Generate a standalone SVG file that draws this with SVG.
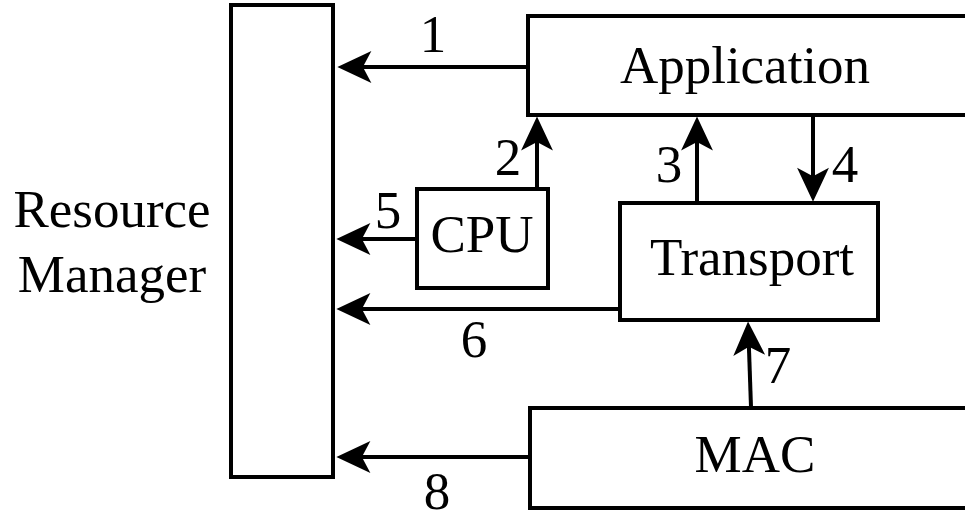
<svg xmlns="http://www.w3.org/2000/svg" width="965" height="521" viewBox="0 0 965 521">
<style>
.box{fill:#fff;stroke:#000;stroke-width:4}
.lbl{font-family:"Liberation Serif","Times New Roman",serif;font-size:53px;fill:#000;text-anchor:middle}
.num{font-family:"Liberation Serif","Times New Roman",serif;font-size:53px;fill:#000;text-anchor:middle}
.conn{stroke:#000;stroke-width:4;fill:none;marker-end:url(#ah)}
</style>
<defs>
<marker id="ah" markerUnits="userSpaceOnUse" markerWidth="34" markerHeight="34" viewBox="0 0 32 32" refX="22" refY="16" orient="auto" overflow="visible">
<path d="M32,16 L0,1 L8,16 L0,31 Z" fill="#000"/>
</marker>
</defs>
<rect width="965" height="521" fill="#fff"/>
<g id="resource-manager">
<rect class="box" x="231" y="5" width="102" height="472"/>
<text class="lbl" x="112" y="227">Resource</text>
<text class="lbl" x="112" y="292">Manager</text>
</g>
<g id="application">
<rect class="box" x="528" y="16" width="450" height="99"/>
<text class="lbl" x="745" y="83">Application</text>
</g>
<g id="cpu">
<rect class="box" x="417" y="189" width="131" height="99"/>
<text class="lbl" x="482" y="252">CPU</text>
</g>
<g id="transport">
<rect class="box" x="620" y="203" width="258" height="117"/>
<text class="lbl" x="752" y="275">Transport</text>
</g>
<g id="mac">
<rect class="box" x="530" y="408" width="450" height="100"/>
<text class="lbl" x="755" y="472">MAC</text>
</g>
<g id="connectors">
<line class="conn" x1="526" y1="67" x2="348" y2="67"/>
<line class="conn" x1="537" y1="188" x2="537" y2="127"/>
<line class="conn" x1="697" y1="203" x2="697" y2="127"/>
<line class="conn" x1="813" y1="115" x2="813" y2="191"/>
<line class="conn" x1="416" y1="239" x2="347" y2="239"/>
<line class="conn" x1="620" y1="309" x2="347" y2="309"/>
<line class="conn" x1="751" y1="407" x2="748.4" y2="332"/>
<line class="conn" x1="530" y1="457" x2="347" y2="457"/>
<text class="num" x="433" y="52">1</text>
<text class="num" x="508" y="175">2</text>
<text class="num" x="669" y="182">3</text>
<text class="num" x="845" y="182">4</text>
<text class="num" x="388" y="228">5</text>
<text class="num" x="474" y="357">6</text>
<text class="num" x="778" y="383">7</text>
<text class="num" x="437" y="509">8</text>
</g>
</svg>
